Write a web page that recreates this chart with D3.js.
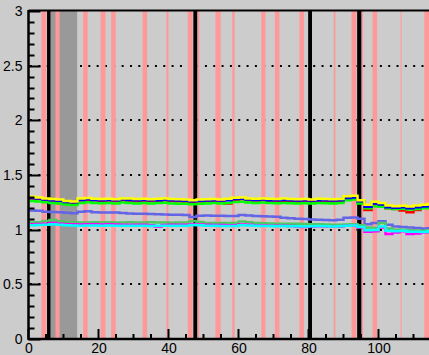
<!DOCTYPE html>
<html><head><meta charset="utf-8">
<script src="https://cdn.jsdelivr.net/npm/d3@7"></script>
<style>html,body{margin:0;padding:0;background:#cccccc;}svg{display:block;}</style>
</head><body>
<svg id="c" width="429" height="355"></svg>
<script>
// ---------- DATA ----------
const binStart = [0,2,4,6,8,10,12,14,16,18,20,22,24,26,28,30,32,34,36,38,40,42,44,46,48,50,52,54,56,58,60,62,64,66,68,70,72,74,76,78,80,82,84,86,88,90,92,94,96,98,100,102,104,106,108,110,112,114];
const binEnd = 116;

const yellowVals = [1.30,1.295,1.285,1.28,1.275,1.262,1.258,1.285,1.29,1.282,1.28,1.283,1.278,1.286,1.284,1.28,1.283,1.279,1.282,1.285,1.28,1.278,1.276,1.27,1.275,1.278,1.28,1.277,1.282,1.292,1.295,1.285,1.283,1.286,1.282,1.28,1.284,1.281,1.278,1.28,1.277,1.282,1.28,1.278,1.28,1.305,1.31,1.27,1.228,1.255,1.245,1.222,1.215,1.218,1.212,1.22,1.228,1.235];
const blueVals = [1.29,1.285,1.275,1.27,1.265,1.252,1.25,1.272,1.278,1.272,1.27,1.272,1.268,1.275,1.272,1.27,1.272,1.268,1.27,1.273,1.27,1.266,1.265,1.26,1.265,1.267,1.27,1.266,1.27,1.28,1.283,1.275,1.272,1.275,1.27,1.268,1.272,1.27,1.266,1.268,1.266,1.27,1.268,1.266,1.27,1.29,1.295,1.26,1.21,1.24,1.23,1.205,1.2,1.205,1.195,1.205,1.212,1.22];
const redVals = [1.285,1.28,1.27,1.265,1.26,1.248,1.245,1.268,1.272,1.268,1.262,1.266,1.262,1.27,1.266,1.26,1.266,1.262,1.265,1.268,1.262,1.26,1.258,1.25,1.258,1.262,1.265,1.26,1.24,1.272,1.278,1.268,1.266,1.27,1.262,1.26,1.265,1.262,1.25,1.262,1.26,1.264,1.262,1.258,1.262,1.285,1.29,1.25,1.18,1.225,1.22,1.195,1.19,1.175,1.16,1.18,1.2,1.21];
const greenVals = [1.262,1.258,1.25,1.245,1.24,1.23,1.226,1.245,1.25,1.245,1.242,1.245,1.24,1.248,1.245,1.24,1.244,1.24,1.243,1.246,1.24,1.238,1.236,1.232,1.238,1.24,1.243,1.24,1.245,1.252,1.255,1.248,1.245,1.248,1.244,1.242,1.245,1.242,1.24,1.242,1.24,1.244,1.242,1.24,1.245,1.27,1.275,1.24,1.195,1.215,1.21,1.195,1.19,1.192,1.185,1.19,1.195,1.2];
const slateVals = [1.175,1.172,1.165,1.162,1.16,1.155,1.15,1.165,1.168,1.16,1.158,1.156,1.157,1.152,1.148,1.146,1.145,1.143,1.14,1.138,1.137,1.136,1.134,1.115,1.128,1.13,1.128,1.127,1.125,1.124,1.135,1.13,1.125,1.122,1.12,1.118,1.11,1.104,1.1,1.097,1.092,1.09,1.088,1.085,1.09,1.11,1.112,1.1,1.05,1.06,1.078,1.045,1.028,1.025,1.02,1.015,1.01,1.012];
const lgreenVals = [1.065,1.068,1.08,1.088,1.078,1.07,1.068,1.065,1.066,1.067,1.066,1.067,1.065,1.066,1.067,1.066,1.065,1.067,1.066,1.065,1.064,1.066,1.065,1.08,1.07,1.062,1.062,1.06,1.06,1.06,1.075,1.068,1.062,1.058,1.056,1.055,1.055,1.054,1.053,1.052,1.05,1.05,1.048,1.046,1.045,1.048,1.05,1.04,1.02,1.015,1.06,1.01,1.0,1.0,0.995,0.992,0.99,0.995];
const magentaVals = [1.05,1.052,1.055,1.06,1.055,1.05,1.05,1.048,1.05,1.05,1.048,1.05,1.048,1.045,1.044,1.045,1.045,1.04,1.03,1.042,1.044,1.045,1.044,1.05,1.048,1.044,1.042,1.042,1.04,1.04,1.048,1.044,1.04,1.038,1.036,1.035,1.035,1.034,1.03,1.025,1.03,1.032,1.03,1.028,1.03,1.035,1.036,1.02,0.98,0.985,1.02,0.96,0.975,0.985,0.96,0.965,0.975,0.985];
const cyanVals = [1.04,1.042,1.045,1.05,1.045,1.04,1.038,1.036,1.037,1.038,1.036,1.037,1.035,1.036,1.035,1.036,1.035,1.034,1.035,1.036,1.035,1.036,1.035,1.042,1.04,1.036,1.035,1.034,1.034,1.033,1.04,1.037,1.035,1.034,1.033,1.032,1.033,1.032,1.031,1.03,1.032,1.033,1.032,1.03,1.032,1.036,1.038,1.025,0.995,0.998,1.03,0.99,0.985,0.99,0.982,0.98,0.978,0.985];

const pinkBands = [[3.7,5.1],[7.7,8.9],[15.6,16.9],[20.6,22.0],[23.6,24.9],[32.6,33.9],[45.5,46.9],[53.4,54.9],[66.5,67.7],[70.4,71.7],[77.4,78.7],[92.3,93.7],[98.3,99.6],[113.1,114.6],
                   [39.4,40.0],[48.2,48.8],[58.2,58.9],[87.2,87.7],[95.1,95.6],[106.3,106.6]];
const blackBands = [[5.3,6.3],[47.1,48.2],[79.9,81.0],[93.9,95.1]];
const grayBands = [[6.3,13.9]];

const xTicks = [0,20,40,60,80,100];
const xTickLabels = ["0","20","40","60","80","100"];
const yTicks = [0,0.5,1,1.5,2,2.5,3];
const yTickLabels = ["0","0.5","1","1.5","2","2.5","3"];
const gridValues = [0.5,1,1.5,2,2.5];

// ---------- DRAW ----------
const svg = d3.select("#c");
const x = d3.scaleLinear().domain([0,115]).range([28.5, 28.5 + 115*3.5]);
const y = d3.scaleLinear().domain([0,3]).range([339, 11]);
const X0 = x(0), XR = 429;

svg.append("rect").attr("x",0).attr("y",0).attr("width",429).attr("height",355).attr("fill","#cccccc");

const plot = svg.append("g");
plot.append("clipPath").attr("id","clip").append("rect").attr("x",X0).attr("y",y(3)).attr("width",XR-X0).attr("height",y(0)-y(3));
const pg = plot.append("g").attr("clip-path","url(#clip)");

// grid
pg.selectAll("line.grid").data(gridValues).join("line")
  .attr("x1",X0+1.5).attr("x2",XR).attr("y1",d=>Math.round(y(d))).attr("y2",d=>Math.round(y(d)))
  .attr("stroke","#000").attr("stroke-width",2).attr("stroke-dasharray","2,6.33");

function bands(data, color){
  pg.append("g").selectAll("rect").data(data).join("rect")
    .attr("x",d=>x(d[0])).attr("width",d=>x(d[1])-x(d[0]))
    .attr("y",y(3)).attr("height",y(0)-y(3)).attr("fill",color);
}
bands(grayBands,"#999999");
bands(pinkBands,"#ff9999");
bands(blackBands,"#000000");

const line = d3.line().x(d=>x(d[0])).y(d=>y(d[1])).curve(d3.curveStepAfter);
const series = [
  {v: slateVals, c:"#6464e6"},
  {v: lgreenVals, c:"#50c864"},
  {v: magentaVals, c:"#ff00ff"},
  {v: cyanVals, c:"#00ffff"},
  {v: redVals, c:"#ff0000"},
  {v: greenVals, c:"#00ff00"},
  {v: blueVals, c:"#0000ff"},
  {v: yellowVals, c:"#ffff00"}
];
series.forEach(s=>{
  const pts = binStart.map((b,i)=>[b, s.v[i]]);
  pts.push([binEnd, s.v[s.v.length-1]]);
  pg.append("path").datum(pts).attr("d",line).attr("fill","none")
    .attr("stroke",s.c).attr("stroke-width",2.5);
});

// axes
const yAxis = d3.axisLeft(y).tickValues(yTicks).tickFormat((d,i)=>yTickLabels[i]).tickSize(0).tickPadding(4);
const xAxis = d3.axisBottom(x).tickValues(xTicks).tickFormat((d,i)=>xTickLabels[i]).tickSize(0).tickPadding(3);

const ax = svg.append("g");
const yMinor = d3.range(0, 3.0001, 0.1);
ax.selectAll("line.ym").data(yMinor).join("line")
  .attr("x1",X0).attr("x2",d=> (Math.abs(d*2-Math.round(d*2))<1e-6) ? X0+12 : X0+6)
  .attr("y1",d=>Math.round(y(d))+0.5).attr("y2",d=>Math.round(y(d))+0.5)
  .attr("stroke","#000").attr("stroke-width",2);
const xMinor = d3.range(0, 115, 5);
ax.selectAll("line.xm").data(xMinor).join("line")
  .attr("x1",d=>x(d)).attr("x2",d=>x(d))
  .attr("y1",y(0)).attr("y2",d=> d%20===0 ? y(0)-10 : y(0)-5)
  .attr("stroke","#000").attr("stroke-width",2);

ax.append("line").attr("x1",X0).attr("x2",X0).attr("y1",y(3)-1).attr("y2",y(0)+1).attr("stroke","#000").attr("stroke-width",2.5);
ax.append("line").attr("x1",X0).attr("x2",XR).attr("y1",y(0)).attr("y2",y(0)).attr("stroke","#000").attr("stroke-width",2.5);
ax.append("line").attr("x1",X0).attr("x2",XR).attr("y1",y(3)-0.5).attr("y2",y(3)-0.5).attr("stroke","#000").attr("stroke-width",2);

const gy = svg.append("g").attr("transform",`translate(${X0-2},0)`).call(yAxis);
const gx = svg.append("g").attr("transform",`translate(0,${y(0)+1})`).call(xAxis);
[gy,gx].forEach(g=>{
  g.select(".domain").remove();
  g.selectAll("text").attr("font-family","'Liberation Sans', Arial, sans-serif").attr("font-size",14).attr("fill","#000");
});
</script>
</body></html>
